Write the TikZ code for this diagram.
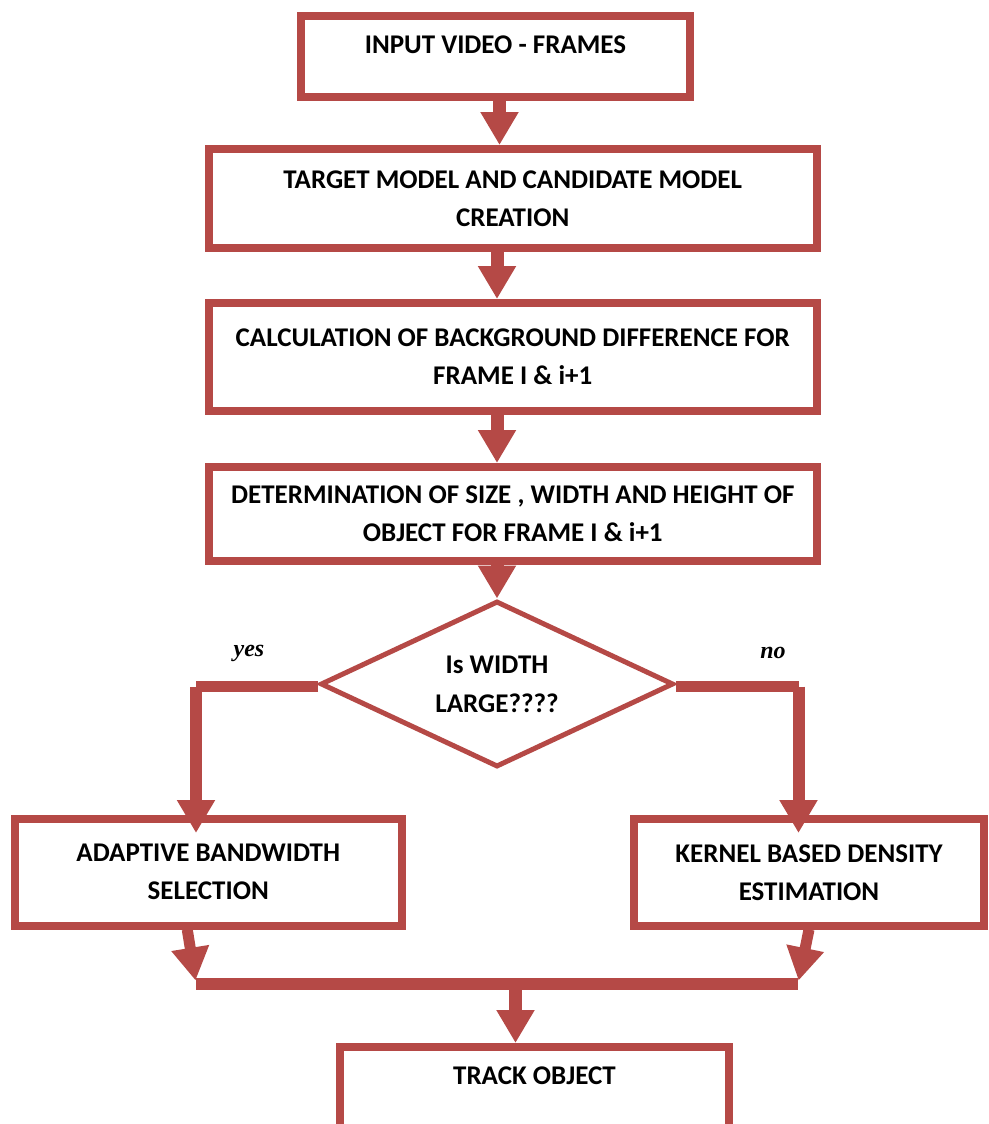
\documentclass[tikz,border=0pt]{standalone}
\usepackage{fontspec}
\setmainfont{Carlito}
\newfontfamily\labelfont{Liberation Serif}
\usepackage{tikz}
\usetikzlibrary{shapes.geometric, arrows.meta}
\definecolor{boxred}{RGB}{181,73,70}
\tikzstyle{process} = [rectangle, draw=boxred, line width=8pt, text=black, align=center, font=\fontsize{27}{38}\selectfont\bfseries]
\tikzstyle{oneline} = [text height=17pt, text depth=23pt]
\tikzstyle{decision} = [diamond, aspect=2.13, draw=boxred, line width=5pt, inner sep=0pt, text=black, align=center, minimum width=353pt, minimum height=166pt, font=\fontsize{27}{39}\selectfont\bfseries]
\tikzstyle{arrow} = [draw=boxred, line width=13pt, -{Triangle[width=36pt,length=33pt]}]
\tikzstyle{link} = [draw=boxred, line width=12pt]
\tikzstyle{answer} = [text=black, font=\labelfont\fontsize{24}{28}\selectfont\bfseries\itshape]

\begin{document}
\begin{tikzpicture}[x=1pt, y=-1pt]
    \useasboundingbox (0,0) rectangle (988,1124);
    % main column
    \node (in) [process, oneline, minimum width=389pt, minimum height=81pt] at (495.5,56.5) {INPUT VIDEO - FRAMES};
    \node (tmc) [process, minimum width=608.5pt, minimum height=99pt] at (512.75,198.5) {TARGET MODEL AND CANDIDATE MODEL\\CREATION};
    \node (cbd) [process, minimum width=608.5pt, minimum height=108pt] at (512.75,357) {CALCULATION OF BACKGROUND DIFFERENCE FOR\\FRAME I \& i+1};
    \node (dsw) [process, minimum width=608.5pt, minimum height=94pt] at (512.75,514) {DETERMINATION OF SIZE , WIDTH AND HEIGHT OF\\OBJECT FOR FRAME I \& i+1};
    \node (dec) [decision] at (497,684) {Is WIDTH\\LARGE????};
    % branches
    \node (ada) [process, minimum width=387.5pt, minimum height=106.5pt] at (208.25,872.25) {ADAPTIVE BANDWIDTH\\SELECTION};
    \node (kde) [process, minimum width=350pt, minimum height=106.5pt] at (809,872.25) {KERNEL BASED DENSITY\\ESTIMATION};
    \node (trk) [process, oneline, minimum width=389pt, minimum height=81pt] at (534.5,1087.5) {TRACK OBJECT};
    \node (yes) [answer] at (249,653) {yes};
    \node (no) [answer] at (773,653) {no};
    \coordinate (ycorner) at (196,686.5);
    \coordinate (ncorner) at (798.5,686.5);
    \coordinate (jl) at (196,983.5);
    \coordinate (jr) at (798,983.5);

    \draw [arrow] ([xshift=4pt]in.south) -- ([xshift=4pt]in.south |- tmc.north);
    \draw [arrow] (tmc.south -| dec.north) -- (dec.north |- cbd.north);
    \draw [arrow] (cbd.south -| dec.north) -- (dec.north |- dsw.north);
    \draw [arrow] (dsw.south -| dec.north) -- (dec.north);
    % yes / no
    \draw [link, line width=11pt] (dec.west |- ycorner) -- (ycorner);
    \draw [arrow, line width=12pt, shorten >=-18pt] (ycorner) -- (ycorner |- ada.north);
    \draw [link, line width=11pt] (dec.east |- ncorner) -- (ncorner);
    \draw [arrow, line width=12pt, shorten >=-18pt] (ncorner) -- (ncorner |- kde.north);
    % join
    \draw [link] (jl) -- (jr);
    \draw [arrow, line width=11pt, shorten >=3pt] ([xshift=-21pt]ada.south) -- (jl);
    \draw [arrow, line width=11pt, shorten >=3pt] (kde.south) -- (jr);
    \draw [arrow] ([xshift=-19pt]trk.north |- jl) -- ([xshift=-19pt]trk.north);
\end{tikzpicture}
\end{document}
